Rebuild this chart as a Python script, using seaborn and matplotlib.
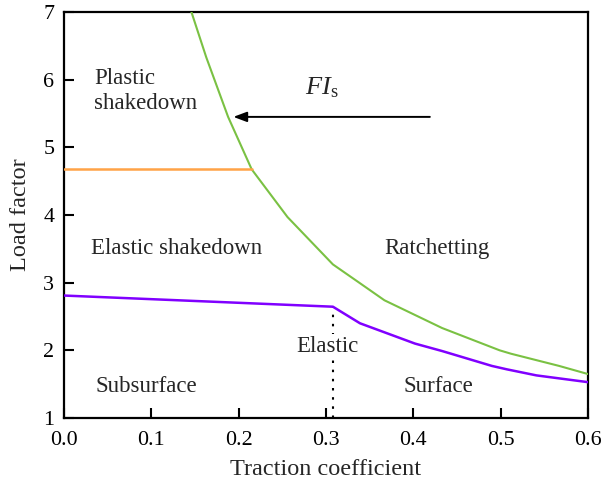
import matplotlib
matplotlib.use("Agg")
import matplotlib.pyplot as plt
import seaborn as sns
import pandas as pd

# Boundary between shakedown and ratchetting (upper limit)
green_x = [0.146, 0.163, 0.188, 0.215, 0.256, 0.308, 0.337, 0.367, 0.433, 0.499, 0.512, 0.567, 0.600]
green_y = [7.00, 6.33, 5.45, 4.675, 3.97, 3.27, 3.01, 2.74, 2.33, 2.00, 1.95, 1.77, 1.65]

# Elastic limit
purple_x = [0.000, 0.308, 0.339, 0.402, 0.433, 0.490, 0.507, 0.541, 0.600]
purple_y = [2.81, 2.645, 2.40, 2.10, 1.99, 1.77, 1.72, 1.63, 1.53]

# Elastic shakedown limit
orange_x = [0.000, 0.215]
orange_y = [4.675, 4.675]

# Transition between subsurface and surface yielding
split_x = [0.308, 0.308]
split_y = [1.0, 2.645]

x_ticks = [0.0, 0.1, 0.2, 0.3, 0.4, 0.5, 0.6]
y_ticks = [1, 2, 3, 4, 5, 6, 7]

sns.set_style("ticks")
plt.rcParams["font.family"] = ["Liberation Serif", "DejaVu Serif"]
plt.rcParams["mathtext.fontset"] = "custom"
plt.rcParams["mathtext.rm"] = "Liberation Serif"
plt.rcParams["mathtext.it"] = "Liberation Serif:italic"

fig = plt.figure(figsize=(6.03, 4.88), dpi=100)
ax = fig.add_axes([0.106, 0.1434, 0.869, 0.832])

green = pd.DataFrame({"x": green_x, "y": green_y})
purple = pd.DataFrame({"x": purple_x, "y": purple_y})
orange = pd.DataFrame({"x": orange_x, "y": orange_y})

ax.plot(split_x, split_y, color="black", lw=1.5, ls=(0, (1.2, 3.2)), zorder=1)
sns.lineplot(data=green, x="x", y="y", sort=False, estimator=None, color="#7ac143", lw=1.5, ax=ax, zorder=3)
sns.lineplot(data=purple, x="x", y="y", sort=False, estimator=None, color="#8000ff", lw=1.8, ax=ax, zorder=3)
sns.lineplot(data=orange, x="x", y="y", sort=False, estimator=None, color="#ffa347", lw=1.8, ax=ax, zorder=3)

ax.set_xlim(0, 0.6)
ax.set_ylim(1, 7)
ax.set_xticks(x_ticks)
ax.set_xticklabels([f"{v:.1f}" for v in x_ticks])
ax.set_yticks(y_ticks)
ax.set_yticklabels([str(v) for v in y_ticks])
ax.tick_params(direction="in", length=7, width=1.5, labelsize=15.8, colors="black")
ax.tick_params(axis="x", pad=9)
ax.tick_params(axis="y", pad=7)
for s in ax.spines.values():
    s.set_visible(True)
    s.set_linewidth(1.6)
    s.set_color("black")

ax.set_xlabel("Traction coefficient", fontsize=17.5, labelpad=7)
ax.set_ylabel("Load factor", fontsize=17.5, labelpad=9)

fs = 16.5
ax.text(0.035, 5.83, "Plastic\nshakedown", fontsize=fs, ha="left", va="center", linespacing=1.25)
ax.text(0.031, 3.51, "Elastic shakedown", fontsize=fs, ha="left", va="center")
ax.text(0.427, 3.51, "Ratchetting", fontsize=fs, ha="center", va="center")
ax.text(0.302, 2.05, "Elastic", fontsize=fs, ha="center", va="center",
        bbox=dict(facecolor="white", edgecolor="none", pad=1.5), zorder=2)
ax.text(0.094, 1.46, "Subsurface", fontsize=fs, ha="center", va="center")
ax.text(0.429, 1.47, "Surface", fontsize=fs, ha="center", va="center")
ax.text(0.295, 5.88, r"$\mathit{FI}_{\mathrm{s}}$", fontsize=19, ha="center", va="center")

ax.annotate("", xy=(0.194, 5.45), xytext=(0.419, 5.45),
            arrowprops=dict(arrowstyle="-|>,head_length=0.8,head_width=0.3",
                            color="black", lw=1.4, shrinkA=0, shrinkB=0))

fig.savefig("out.png", dpi=100)
